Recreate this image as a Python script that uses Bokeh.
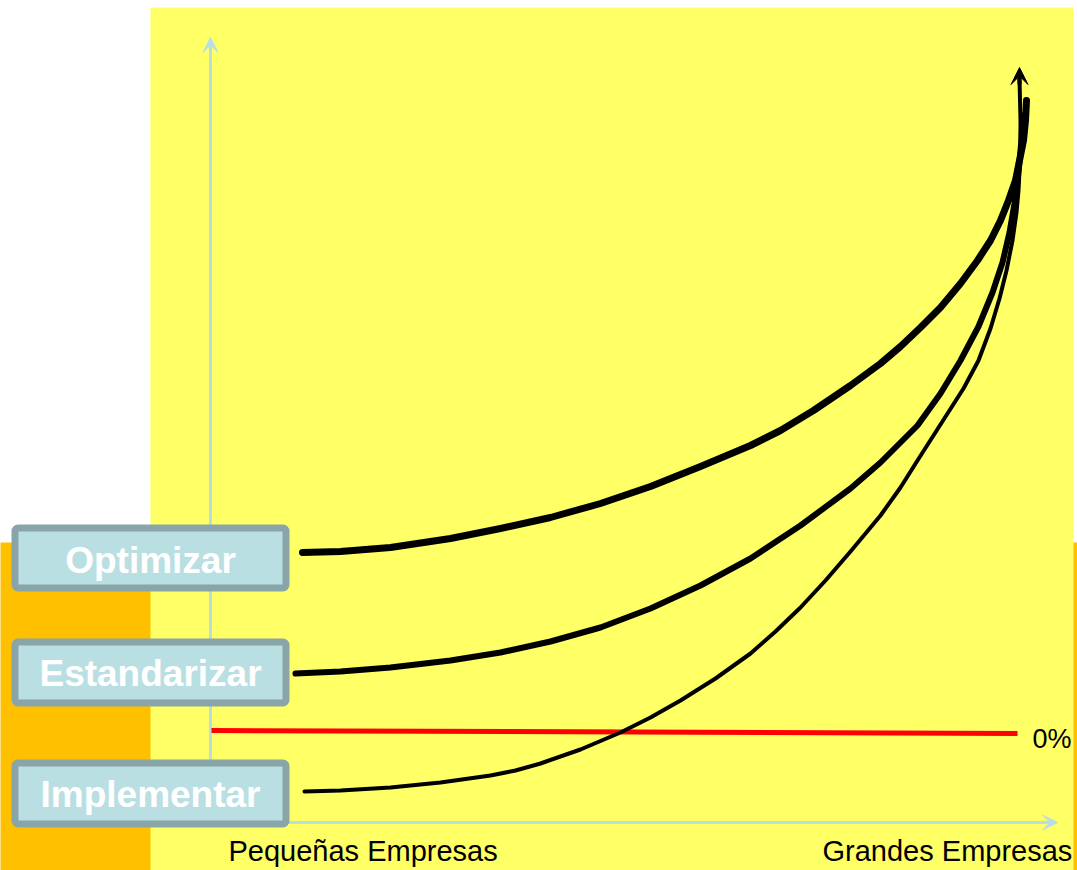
from bokeh.plotting import figure
from bokeh.models import Range1d, Arrow, VeeHead
from bokeh.core.properties import value
from bokeh.embed import file_html
from bokeh.resources import INLINE

# ---------------- data (x: company size, y: benefit relative to the 0% line) ----------------
stages = ["Optimizar", "Estandarizar", "Implementar"]

opt_x = [92, 130, 180, 240, 290, 340, 390, 440, 490, 540, 570, 603, 640, 670, 690, 710, 730,
         750, 767, 780, 790, 798, 805, 809, 813, 815, 816]
opt_y = [179, 180, 184, 193, 203, 214, 228, 245, 265, 286, 301, 321, 346, 368, 385, 404, 424,
         448, 471, 491, 511, 531, 551, 571, 591, 611, 631]

est_x = [85, 130, 180, 240, 290, 340, 390, 440, 490, 540, 590, 640, 670, 707, 730, 750, 768,
         782, 792, 799, 804, 807, 809, 811, 812]
est_y = [58, 60, 64, 71, 79, 90, 104, 123, 146, 173, 206, 243, 269, 306, 338, 371, 405,
         439, 469, 499, 528, 551, 569, 593, 616]

imp_x = [94, 130, 180, 230, 280, 305, 330, 370, 410, 440, 470, 505, 540, 565, 590, 615, 640,
         670, 690, 707, 730, 753, 768, 780, 789, 796, 802, 806, 808, 809, 810, 810, 809]
imp_y = [-60, -59, -56, -51, -44, -39, -32, -18, -1, 14, 31, 53, 78, 100, 124, 151, 180,
         216, 244, 271, 307, 343, 371, 403, 433, 461, 491, 519, 541, 561, 581, 611, 653]

zero_x = [1, 807]
zero_y = [1, -2]
zero_label = "0%"

x_labels = ["Pequeñas Empresas", "Grandes Empresas"]

# ---------------- figure ----------------
p = figure(width=1077, height=870,
           x_range=Range1d(-210, 867), y_range=Range1d(-139, 731),
           output_backend="svg", toolbar_location=None, min_border=0,
           x_axis_location=None, y_axis_location=None)
p.grid.visible = False
p.outline_line_color = None
p.background_fill_color = "white"
p.border_fill_color = "white"

FONT = value("Liberation Sans")
AXIS_C = "#b9dde6"

# background panels
p.quad(left=-230, right=900, top=189, bottom=-150, fill_color="#ffc000",
       line_color=None, level="image")
p.quad(left=-60, right=863, top=724, bottom=-150, fill_color="#ffff66",
       line_color=None, level="image")

# axes with arrows
p.add_layout(Arrow(end=VeeHead(size=15, line_color=AXIS_C, fill_color=AXIS_C),
                   x_start=0, y_start=-91, x_end=0, y_end=694,
                   line_color=AXIS_C, line_width=3, level="underlay"))
p.add_layout(Arrow(end=VeeHead(size=15, line_color=AXIS_C, fill_color=AXIS_C),
                   x_start=0, y_start=-91, x_end=847, y_end=-91,
                   line_color=AXIS_C, line_width=3, level="underlay"))

# 0% line
p.line(zero_x, zero_y, line_color="#ff0000", line_width=5)
p.text(x=[822], y=[-7], text=[zero_label], text_font=FONT, text_font_size="27px",
       text_color="black", text_align="left", text_baseline="middle")

# curves
p.line(imp_x, imp_y, line_color="black", line_width=4, line_cap="round", line_join="round")
p.line(est_x, est_y, line_color="black", line_width=6, line_cap="round", line_join="round")
p.line(opt_x, opt_y, line_color="black", line_width=7, line_cap="round", line_join="round")
p.add_layout(Arrow(end=VeeHead(size=17, line_color="black", fill_color="black"),
                   x_start=imp_x[-1], y_start=imp_y[-1] - 6, x_end=imp_x[-1], y_end=imp_y[-1] + 11,
                   line_color="black", line_width=4))

# stage boxes
box_top = [203.5, 89.5, -31.5]
box_bot = [143.5, 28.5, -92.5]
p.quad(left=[-195.5] * 3, right=[75.5] * 3, top=box_top, bottom=box_bot,
       fill_color="#b9dfe3", line_color="#8aa5a8", line_width=7, border_radius=3)
p.text(x=[-60] * 3, y=[171, 58.5, -63], text=stages, text_font=FONT,
       text_font_style="bold", text_font_size="37px", text_color="white",
       text_align="center", text_baseline="middle")

# x labels
p.text(x=[18], y=[-119], text=[x_labels[0]], text_font=FONT, text_font_size="29px",
       text_color="black", text_align="left", text_baseline="middle")
p.text(x=[612], y=[-119], text=[x_labels[1]], text_font=FONT, text_font_size="29px",
       text_color="black", text_align="left", text_baseline="middle")

open("out.html", "w").write(file_html(p, INLINE))
